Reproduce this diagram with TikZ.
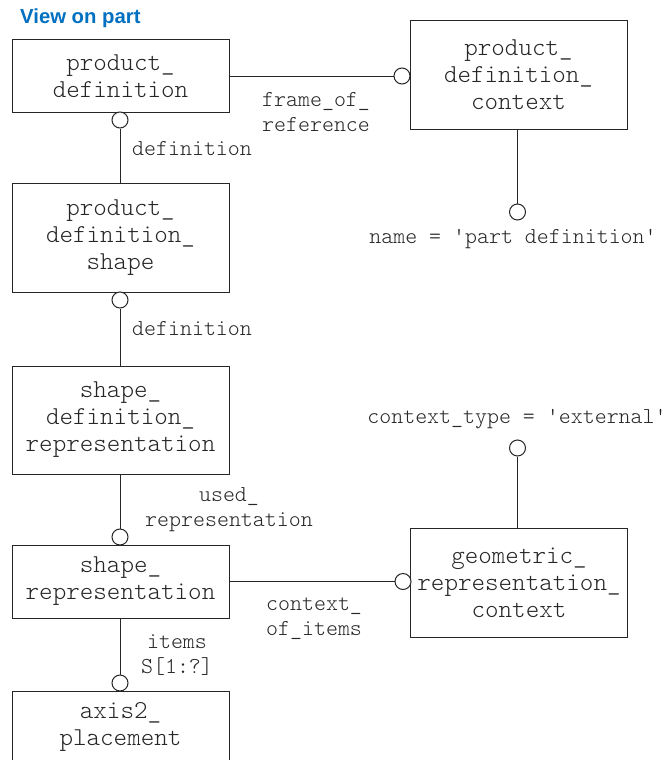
\documentclass[tikz,border=0pt]{standalone}
\usepackage{fontspec}
\newfontfamily\headfont{Liberation Sans}
\definecolor{headblue}{RGB}{0,112,192}
\definecolor{ink}{gray}{0.15}
\newcommand{\typefont}{\ttfamily\fontseries{l}\selectfont}
\begin{document}
\begin{tikzpicture}[x=1pt,y=-1pt,
  entity/.style={draw=ink, line width=1pt, fill=white, inner sep=0pt,
    minimum width=217pt, align=center, text=ink,
    font=\ttfamily\fontseries{l}\fontsize{25.8pt}{27pt}\selectfont},
  role/.style={inner sep=0pt, text=ink,
    font=\ttfamily\fontseries{l}\fontsize{22.8pt}{25pt}\selectfont},
  ring/.style={circle, draw=ink, line width=1pt, fill=white,
    minimum size=16pt, inner sep=0pt},
  link/.style={draw=ink, line width=1pt}]
\useasboundingbox (0,0) rectangle (670,760);
\clip (0,0) rectangle (670,760);

\node[anchor=west, inner sep=0pt, text=headblue,
  font=\headfont\bfseries\fontsize{20.3pt}{24pt}\selectfont] (title) at (20,18) {View on part};

% entities
\node[entity, minimum height=72pt]  (pd)   at (120.5,76)  {product\_\\definition};
\node[entity, minimum height=108pt] (pdc)  at (518.5,75)  {product\_\\definition\_\\context};
\node[entity, minimum height=109pt] (pds)  at (120.5,237.5) {product\_\\definition\_\\shape};
\node[entity, minimum height=108pt] (sdr)  at (120.5,420) {shape\_\\definition\_\\representation};
\node[entity, minimum height=73pt]  (sr)   at (120.5,581.5) {shape\_\\representation};
\node[entity, minimum height=109pt] (grc)  at (519,582.5) {geometric\_\\representation\_\\context};
\node[entity, minimum height=72pt]  (ap)   at (120.5,727) {axis2\_\\placement};

% rings at the referenced ends
\node[ring] (r1) at (402,76)  {};
\node[ring] (r2) at (120,120) {};
\node[ring] (r3) at (517.5,212) {};
\node[ring] (r4) at (120,300) {};
\node[ring] (r5) at (120,537) {};
\node[ring] (r6) at (403,581.5) {};
\node[ring] (r7) at (517.5,448) {};
\node[ring] (r8) at (120,683) {};

% connectors
\draw[link] (pd.east) -- (r1.west);
\draw[link] (r2.south) -- (r2.south |- pds.north);
\draw[link] (pdc.south -| r3) -- (r3.north);
\draw[link] (r4.south) -- (r4.south |- sdr.north);
\draw[link] (r5 |- sdr.south) -- (r5.north);
\draw[link] (sr.east) -- (r6.west);
\draw[link] (grc.north -| r7) -- (r7.south);
\draw[link] (r8 |- sr.south) -- (r8.north);

% attribute labels
\node[role, anchor=west, align=left] (l1) at (262,112.5) {frame\_of\_\\reference};
\node[role, anchor=west] (l2) at (132,149) {definition};
\node[role] (l3) at (513,239) {name = 'part definition'};
\node[role, anchor=west] (l4) at (132,329) {definition};
\node[role, align=center] (l5) at (229,509.5) {used\_\\representation};
\node[role, anchor=west, align=left] (l6) at (266,618.5) {context\_\\of\_items};
\node[role] (l7) at (517,419) {context\_type = 'external'};
\node[role, align=center] (l8) at (177,655) {items\\S[1:?]};
\end{tikzpicture}
\end{document}
